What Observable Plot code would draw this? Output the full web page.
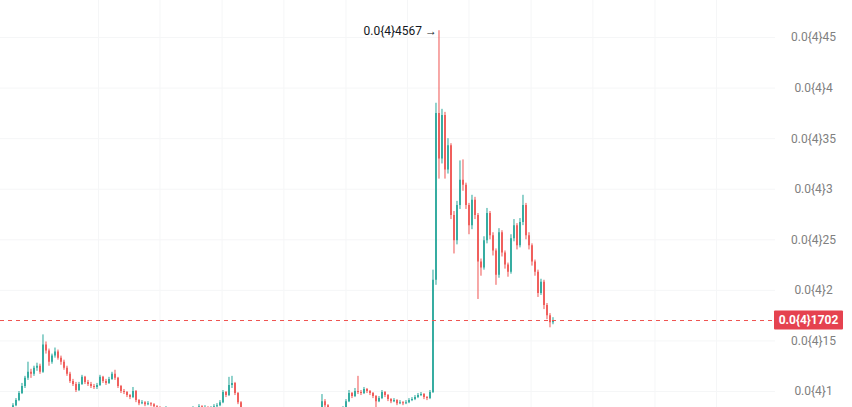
<!DOCTYPE html>
<html>
<head>
<meta charset="utf-8">
<script src="https://cdn.jsdelivr.net/npm/d3@7"></script>
<script src="https://cdn.jsdelivr.net/npm/@observablehq/plot@0.6"></script>
<style>
  html, body { margin: 0; padding: 0; background: #ffffff; }
  #chart { width: 852px; height: 407px; overflow: hidden; }
  svg { font-family: Roboto, "Noto Sans", sans-serif; }
</style>
</head>
<body>
<div id="chart"></div>
<script>
// Prices are in units of 0.00001 (1e-5). Label "0.0{4}45" = 0.000045.
const firstOpen = 0.69;
const closes = [
  0.71,0.73,0.77,0.81,0.86,0.91,0.98,1.05,1.13,1.19,
  1.17,1.23,1.25,1.19,1.46,1.40,1.29,1.35,1.39,1.33,
  1.29,1.23,1.17,1.10,1.07,1.01,1.07,1.14,1.09,1.07,
  1.05,1.04,1.06,1.14,1.10,1.08,1.12,1.17,1.13,1.05,
  1.00,0.99,0.96,0.94,1.00,0.91,0.88,0.89,0.87,0.88,
  0.87,0.85,0.84,0.82,0.81,0.83,0.81,0.79,0.80,0.78,
  0.81,0.80,0.82,0.80,0.83,0.81,0.85,0.83,0.84,0.82,
  0.83,0.85,0.86,0.89,0.99,0.96,1.06,1.08,0.98,0.89,
  0.81,0.75,0.72,0.70,0.71,0.68,0.66,0.67,0.65,0.66,
  0.64,0.66,0.68,0.67,0.70,0.69,0.72,0.71,0.74,0.73,
  0.76,0.75,0.78,0.77,0.80,0.79,0.82,0.90,0.86,0.83,
  0.82,0.80,0.79,0.80,0.83,0.90,0.98,0.95,1.00,0.99,
  0.98,1.02,1.00,0.98,0.95,0.90,0.93,0.99,0.96,0.92,
  0.90,0.91,0.88,0.89,0.88,0.89,0.91,0.92,0.94,0.96,
  0.97,0.94,0.93,0.99,2.10,3.75,3.30,3.73,3.19,3.43,
  2.74,2.49,2.84,3.09,3.04,2.84,2.64,2.89,2.74,2.28,
  2.22,2.49,2.76,2.54,2.39,2.15,2.57,2.37,2.25,2.18,
  2.51,2.64,2.44,2.67,2.84,2.54,2.44,2.28,2.18,1.97,
  2.08,1.85,1.75,1.68,1.702
];
const highs = [
  0.73,0.75,0.79,0.83,0.88,0.93,1.00,1.08,1.15,1.29,
  1.22,1.25,1.28,1.27,1.56,1.49,1.42,1.37,1.43,1.41,
  1.35,1.31,1.25,1.19,1.12,1.09,1.09,1.16,1.15,1.11,
  1.09,1.07,1.08,1.16,1.15,1.12,1.14,1.19,1.21,1.14,
  1.06,1.02,1.00,0.97,1.04,1.01,0.92,0.91,0.90,0.90,
  0.89,0.88,0.86,0.85,0.83,0.85,0.84,0.82,0.82,0.81,
  0.83,0.82,0.84,0.83,0.85,0.84,0.87,0.86,0.86,0.85,
  0.85,0.87,0.88,0.91,1.01,1.00,1.14,1.15,1.09,0.99,
  0.90,0.82,0.76,0.73,0.73,0.72,0.69,0.69,0.68,0.68,
  0.67,0.68,0.70,0.69,0.72,0.71,0.74,0.73,0.76,0.75,
  0.78,0.77,0.80,0.79,0.82,0.81,0.84,0.97,0.92,0.87,
  0.84,0.83,0.81,0.82,0.85,0.92,1.01,0.99,1.03,1.15,
  1.01,1.04,1.03,1.01,0.99,0.96,0.95,1.01,1.00,0.97,
  0.93,0.93,0.92,0.91,0.90,0.91,0.93,0.94,0.96,0.98,
  0.99,0.98,0.95,1.01,2.20,3.85,4.567,3.79,3.76,3.50,
  3.45,2.78,2.88,3.28,3.29,3.06,2.86,2.94,2.92,2.76,
  2.31,2.53,2.81,2.78,2.57,2.41,2.61,2.59,2.39,2.27,
  2.55,2.70,2.66,2.71,2.94,2.86,2.57,2.46,2.30,2.20,
  2.11,2.10,1.87,1.77,1.73
];
const lows = [
  0.68,0.70,0.72,0.76,0.80,0.85,0.90,0.97,1.03,1.11,
  1.13,1.15,1.20,1.17,1.18,1.37,1.25,1.27,1.33,1.31,
  1.26,1.21,1.15,1.08,1.05,0.99,1.00,1.06,1.07,1.05,
  1.03,1.02,1.02,1.05,1.08,1.06,1.07,1.11,1.11,1.03,
  0.98,0.97,0.94,0.92,0.93,0.89,0.86,0.87,0.85,0.86,
  0.85,0.83,0.82,0.80,0.79,0.80,0.79,0.77,0.78,0.76,
  0.77,0.78,0.79,0.78,0.79,0.79,0.80,0.81,0.82,0.80,
  0.81,0.82,0.84,0.85,0.88,0.94,0.95,1.03,0.96,0.87,
  0.79,0.73,0.70,0.68,0.69,0.66,0.64,0.65,0.63,0.64,
  0.62,0.63,0.65,0.65,0.66,0.67,0.68,0.69,0.70,0.71,
  0.72,0.73,0.74,0.75,0.76,0.77,0.78,0.81,0.84,0.81,
  0.80,0.78,0.77,0.78,0.79,0.82,0.89,0.93,0.94,0.97,
  0.96,0.97,0.98,0.96,0.93,0.80,0.89,0.92,0.94,0.90,
  0.88,0.89,0.86,0.87,0.86,0.87,0.88,0.90,0.91,0.93,
  0.95,0.92,0.91,0.92,0.98,2.05,3.10,3.25,3.10,3.15,
  2.70,2.36,2.45,2.80,2.98,2.80,2.55,2.60,2.70,1.91,
  2.14,2.20,2.46,2.50,2.34,2.05,2.12,2.33,2.21,2.13,
  2.16,2.48,2.40,2.42,2.64,2.50,2.40,2.24,2.14,1.93,
  1.95,1.81,1.71,1.63,1.66
];
const lastPrice = 1.702;
const peakPrice = 4.567;
const peakIndex = 146;
const yTicks = [1, 1.5, 2, 2.5, 3, 3.5, 4, 4.5];
const xGridIdx = [32.5, 53, 73.7, 94.3, 115, 135.5, 156, 176.7, 197.3, 218, 238.5];

const UP = "#26a69a", DOWN = "#ef5350";
const fmt = v => "0.0{4}" + String(v).replace(".", "");

const candles = closes.map((c, i) => {
  const o = i === 0 ? firstOpen : closes[i - 1];
  return {i, open: o, close: c, high: highs[i], low: lows[i], color: c >= o ? UP : DOWN};
});

const plot = Plot.plot({
  width: 852,
  height: 407,
  marginLeft: 0,
  marginRight: 77,
  marginTop: 0,
  marginBottom: 0,
  style: {fontFamily: "Roboto, 'Noto Sans', sans-serif", fontSize: "12px", background: "#ffffff"},
  x: {domain: [-1 / 6, 258.1667], axis: null},
  y: {domain: [0.842, 4.866], axis: null},
  color: {type: "identity"},
  marks: [
    Plot.ruleX(xGridIdx, {stroke: "#f5f6f7", strokeWidth: 1}),
    Plot.ruleY(yTicks, {stroke: "#f5f6f7", strokeWidth: 1}),
    Plot.ruleX(candles, {x: "i", y1: "low", y2: "high", stroke: "color", strokeWidth: 1, clip: true}),
    Plot.ruleX(candles, {x: "i", y1: "open", y2: "close", stroke: "color", strokeWidth: 1.7, clip: true}),
    Plot.ruleY([lastPrice], {stroke: DOWN, strokeWidth: 1, strokeDasharray: "4,4"}),
    Plot.axisY(yTicks, {anchor: "right", tickSize: 0, tickPadding: 3, tickFormat: fmt, textAnchor: "middle", dx: 35, fill: "#808080", fontSize: 12}),
    Plot.text([{i: peakIndex, v: peakPrice}], {x: "i", y: "v", text: d => fmt(d.v) + " \u2192", textAnchor: "end", dx: -2, fill: "#131722", fontSize: 12})
  ]
});

// Last-price tag on the right axis, positioned with Plot's own y scale
const yPos = plot.scale("y").apply(lastPrice);
const svg = d3.select(plot);
const tag = svg.append("g");
tag.append("rect")
  .attr("x", 774).attr("y", yPos - 9.5).attr("width", 69).attr("height", 19)
  .attr("rx", 1).attr("fill", "#e5424f");
tag.append("text")
  .attr("x", 808.5).attr("y", yPos).attr("dy", "0.35em")
  .attr("text-anchor", "middle").attr("fill", "#ffffff")
  .attr("font-weight", "bold").attr("font-size", 12)
  .text(fmt(lastPrice));

document.getElementById("chart").appendChild(plot);
</script>
</body>
</html>
